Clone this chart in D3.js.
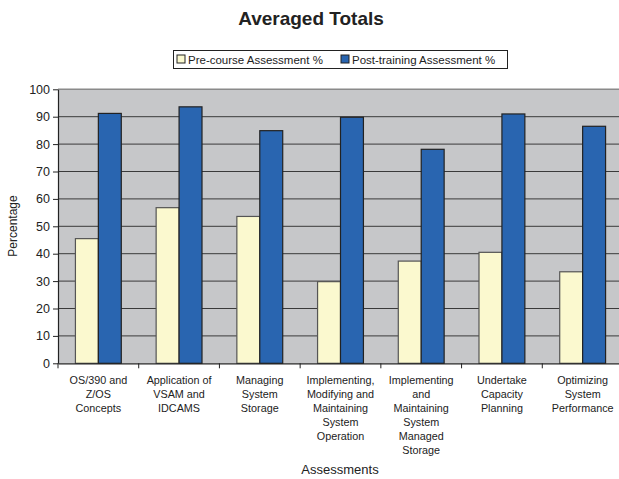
<!DOCTYPE html>
<html>
<head>
<meta charset="utf-8">
<script src="https://cdn.jsdelivr.net/npm/d3@7"></script>
<style>
  body { margin: 0; background: #fff; }
  svg { display: block; font-family: "Liberation Sans", Arial, sans-serif; }
</style>
</head>
<body>
<div id="chart"></div>
<script>
// ---- data ----
const categories = [
  "OS/390 and Z/OS Concepts",
  "Application of VSAM and IDCAMS",
  "Managing System Storage",
  "Implementing, Modifying and Maintaining System Operation",
  "Implementing and Maintaining System Managed Storage",
  "Undertake Capacity Planning",
  "Optimizing System Performance"
];
// wrapped lines as in the picture
const categoryLines = [
  ["OS/390 and", "Z/OS", "Concepts"],
  ["Application of", "VSAM and", "IDCAMS"],
  ["Managing", "System", "Storage"],
  ["Implementing,", "Modifying and", "Maintaining", "System", "Operation"],
  ["Implementing", "and", "Maintaining", "System", "Managed", "Storage"],
  ["Undertake", "Capacity", "Planning"],
  ["Optimizing", "System", "Performance"]
];
const seriesNames = ["Pre-course Assessment %", "Post-training Assessment %"];
const preCourse = [45.5, 56.8, 53.6, 29.8, 37.3, 40.5, 33.4];
const postTraining = [91.2, 93.6, 84.9, 89.8, 78.1, 91.0, 86.5];
const yTicks = [0, 10, 20, 30, 40, 50, 60, 70, 80, 90, 100];
const colors = ["#fbf9cf", "#2965b0"];

// ---- layout ----
const W = 619, H = 479;
const plot = { left: 58, right: 623, top: 89.3, bottom: 363.3 };

const svg = d3.select("#chart").append("svg")
  .attr("width", W)
  .attr("height", H);

// scales
const x0 = d3.scaleBand()
  .domain(categories)
  .range([plot.left, plot.right])
  .paddingInner(0)
  .paddingOuter(0);

const x1 = d3.scaleBand()
  .domain(seriesNames)
  .range([0, x0.bandwidth()])
  .paddingInner(0)
  .paddingOuter(0.76);

const y = d3.scaleLinear()
  .domain([0, 100])
  .range([plot.bottom, plot.top]);

// plot background
svg.append("rect")
  .attr("x", plot.left)
  .attr("y", plot.top)
  .attr("width", plot.right - plot.left)
  .attr("height", plot.bottom - plot.top)
  .attr("fill", "#c6c7c9");

// gridlines
svg.append("g")
  .selectAll("line")
  .data(yTicks.filter(t => t > 0))
  .enter().append("line")
  .attr("x1", plot.left)
  .attr("x2", plot.right)
  .attr("y1", d => y(d))
  .attr("y2", d => y(d))
  .attr("stroke", d => d === 100 ? "#8a8a8a" : "#3a3a3a")
  .attr("stroke-width", d => d === 100 ? 1.5 : 1);

// bars
const rows = categories.map((c, i) => ({ cat: c, vals: [preCourse[i], postTraining[i]] }));

const groups = svg.selectAll(".grp")
  .data(rows)
  .enter().append("g")
  .attr("class", "grp")
  .attr("transform", d => `translate(${x0(d.cat)},0)`);

groups.selectAll("rect")
  .data(d => d.vals.map((v, j) => ({ name: seriesNames[j], value: v, j: j })))
  .enter().append("rect")
  .attr("x", d => x1(d.name))
  .attr("y", d => y(d.value))
  .attr("width", x1.bandwidth())
  .attr("height", d => y(0) - y(d.value))
  .attr("fill", d => colors[d.j])
  .attr("stroke", d => d.j === 0 ? "#555" : "#222")
  .attr("stroke-width", 1.2);

// y axis
const leftAxis = d3.axisLeft(y).tickValues(yTicks).tickSize(5).tickSizeOuter(0);
const gy = svg.append("g")
  .attr("transform", `translate(${plot.left},0)`)
  .call(leftAxis);
gy.select(".domain").attr("stroke", "#222").attr("stroke-width", 1.2);
gy.selectAll(".tick line").attr("stroke", "#222");
gy.selectAll(".tick text")
  .attr("x", -8)
  .style("font-size", "12.5px")
  .attr("fill", "#222");

// x axis
const bottomAxis = d3.axisBottom(x0).tickValues([]).tickSizeOuter(0);
const gx = svg.append("g")
  .attr("transform", `translate(0,${plot.bottom})`)
  .call(bottomAxis);
gx.select(".domain").attr("stroke", "#222").attr("stroke-width", 1.2);

// category boundary ticks
gx.selectAll(".sep")
  .data(categories)
  .enter().append("line")
  .attr("x1", d => x0(d))
  .attr("x2", d => x0(d))
  .attr("y1", 0)
  .attr("y2", 5)
  .attr("stroke", "#222");

// category labels
const labs = svg.append("g")
  .selectAll("text")
  .data(categories)
  .enter().append("text")
  .attr("x", d => x0(d) + x0.bandwidth() / 2)
  .attr("y", 384)
  .attr("text-anchor", "middle")
  .attr("fill", "#222")
  .style("font-size", "10.8px");

labs.each(function(d, i) {
  d3.select(this).selectAll("tspan")
    .data(categoryLines[i])
    .enter().append("tspan")
    .attr("x", x0(d) + x0.bandwidth() / 2)
    .attr("dy", (t, k) => k === 0 ? 0 : 14)
    .text(t => t);
});

// title
svg.append("text")
  .attr("x", 311)
  .attr("y", 25)
  .attr("text-anchor", "middle")
  .style("font-size", "19px")
  .style("font-weight", "bold")
  .attr("fill", "#222")
  .text("Averaged Totals");

// axis titles
svg.append("text")
  .attr("x", 340)
  .attr("y", 474)
  .attr("text-anchor", "middle")
  .style("font-size", "13px")
  .attr("fill", "#222")
  .text("Assessments");

svg.append("text")
  .attr("transform", "translate(17,226) rotate(-90)")
  .attr("text-anchor", "middle")
  .style("font-size", "12px")
  .attr("fill", "#222")
  .text("Percentage");

// legend
const legend = svg.append("g");
legend.append("rect")
  .attr("x", 173.5)
  .attr("y", 50.5)
  .attr("width", 334)
  .attr("height", 18)
  .attr("fill", "#fff")
  .attr("stroke", "#222");

const legendX = [177, 341];
seriesNames.forEach((s, i) => {
  legend.append("rect")
    .attr("x", legendX[i])
    .attr("y", 55)
    .attr("width", 8)
    .attr("height", 8)
    .attr("fill", colors[i])
    .attr("stroke", "#222");
  legend.append("text")
    .attr("x", legendX[i] + 11)
    .attr("y", 63.5)
    .style("font-size", "11.5px")
    .attr("fill", "#222")
    .text(s);
});
</script>
</body>
</html>
